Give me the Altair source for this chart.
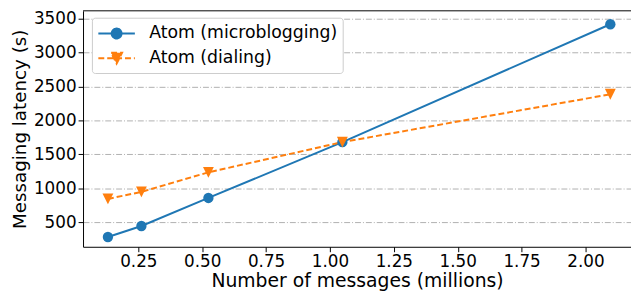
import altair as alt
import pandas as pd

# Data
x_millions = [0.131072, 0.262144, 0.524288, 1.048576, 2.097152]
micro_latency = [280, 442, 856, 1680, 3418]
dial_latency = [842, 946, 1234, 1680, 2385]
series_names = ["Atom (microblogging)", "Atom (dialing)"]
series_colors = ["#1f77b4", "#ff7f0e"]
x_ticks = [0.25, 0.5, 0.75, 1.0, 1.25, 1.5, 1.75, 2.0]
y_ticks = [500, 1000, 1500, 2000, 2500, 3000, 3500]

rows = []
for xv, yv in zip(x_millions, micro_latency):
    rows.append({"x": xv, "latency": yv, "series": series_names[0]})
for xv, yv in zip(x_millions, dial_latency):
    rows.append({"x": xv, "latency": yv, "series": series_names[1]})
df = pd.DataFrame(rows)

W, H = 555, 239
FONT = "DejaVu Sans"

xs = alt.Scale(domain=[0.0337, 2.178], nice=False, zero=False)
ys = alt.Scale(domain=[136, 3616], nice=False, zero=False)

X = alt.X("x:Q", scale=xs, axis=alt.Axis(
    values=x_ticks, format=".2f", title="Number of messages (millions)",
    grid=False, tickSize=5, labelPadding=2, titlePadding=2))
Y = alt.Y("latency:Q", scale=ys, axis=alt.Axis(
    values=y_ticks, format="d", title="Messaging latency (s)",
    grid=True, gridDash=[6, 2, 1, 2], gridColor="#b0b0b0", gridWidth=1,
    tickSize=5, labelPadding=2, titlePadding=4, titleFontSize=18.5))

base = alt.Chart(df)

tri_path = "M-1,-1L1,-1L0,1Z"

line_micro = base.transform_filter(alt.datum.series == series_names[0]).mark_line(
    color=series_colors[0], strokeWidth=2).encode(x=X, y=Y)
pts_micro = base.transform_filter(alt.datum.series == series_names[0]).mark_point(
    filled=True, shape="circle", size=110, color=series_colors[0], opacity=1).encode(x=X, y=Y)
line_dial = base.transform_filter(alt.datum.series == series_names[1]).mark_line(
    color=series_colors[1], strokeWidth=2, strokeDash=[6, 3]).encode(x=X, y=Y)
pts_dial = base.transform_filter(alt.datum.series == series_names[1]).mark_point(
    filled=True, shape=tri_path, size=121, color=series_colors[1], opacity=1).encode(x=X, y=Y)

leg_circle = "M-1.85,0H1.85M0.5,0A0.5,0.5,0,1,1,-0.5,0A0.5,0.5,0,1,1,0.5,0Z"
leg_tri = "M-1.85,0H1.85M-0.55,-0.55L0.55,-0.55L0,0.55Z"

legend_layer = base.transform_filter("false").mark_point(
    filled=True, opacity=1, strokeWidth=2).encode(
    x=X, y=Y,
    color=alt.Color("series:N", scale=alt.Scale(domain=series_names, range=series_colors),
                    legend=alt.Legend(title=None)),
    stroke=alt.Stroke("series:N", scale=alt.Scale(domain=series_names, range=series_colors),
                      legend=alt.Legend(title=None)),
    shape=alt.Shape("series:N", scale=alt.Scale(domain=series_names, range=[leg_circle, leg_tri]),
                    legend=alt.Legend(title=None)),
    strokeDash=alt.StrokeDash("series:N", scale=alt.Scale(domain=series_names, range=[[1, 0], [6, 3]]),
                              legend=alt.Legend(title=None)),
)

top_spine = alt.Chart(pd.DataFrame({"a": [0]})).mark_rule(color="black", strokeWidth=1).encode(
    y=alt.value(0), x=alt.value(0), x2=alt.value(W))

chart = alt.layer(line_micro, line_dial, pts_micro, pts_dial, legend_layer, top_spine).properties(
    width=W, height=H,
    autosize=alt.AutoSizeParams(type="none"),
    padding={"left": 76, "top": 1, "right": 0, "bottom": 48},
).configure_view(stroke=None).configure_axis(
    labelFont=FONT, titleFont=FONT, labelFontSize=17, titleFontSize=19,
    labelColor="black", titleColor="black", titleFontWeight="normal",
    domainColor="black", tickColor="black", domainWidth=1, tickWidth=1,
).configure_legend(
    orient="none", legendX=9, legendY=7,
    labelFont=FONT, labelFontSize=17.5, labelColor="black", labelLimit=400,
    symbolSize=400, symbolStrokeWidth=2, symbolOffset=9, labelOffset=22,
    padding=5, rowPadding=5,
    fillColor="white", strokeColor="#cccccc", cornerRadius=3,
)

chart.save("out.html", embed_options={"renderer": "svg", "actions": False})
